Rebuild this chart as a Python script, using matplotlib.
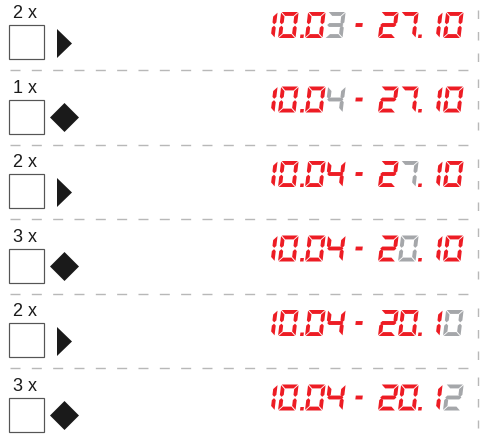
import matplotlib
matplotlib.use('Agg')
import matplotlib.pyplot as plt
from matplotlib.patches import Polygon, Rectangle

# ---------------- data ----------------
press_counts = [2, 1, 2, 3, 2, 3]
button_keys = ['next', 'enter', 'next', 'enter', 'next', 'enter']
display_texts = ["10.03-27.10", "10.04-27.10", "10.04-27.10",
                 "10.04-20.10", "10.04-20.10", "10.04-20.12"]
blinking_char = [4, 4, 7, 7, 10, 10]

# ---------------- style / layout ----------------
RED = '#ed1c24'
GREY = '#a5a7aa'
DASH_COL = '#b8b8b8'
W, H = 491, 440
DPI = 72
ROW_PITCH = 74.5
char_x = [270, 278, 300, 305, 325, 354, 378, 398, 418, 435, 443]

plt.rcParams['lines.scale_dashes'] = False
fig = plt.figure(figsize=(W / DPI, H / DPI), dpi=DPI)
ax = fig.add_axes([0, 0, 1, 1])
ax.set_xlim(0, W)
ax.set_ylim(H, 0)
ax.axis('off')

SEGMENTS = {'0': 'abcdef', '1': 'bc', '2': 'abdeg', '3': 'abcdg', '4': 'bcfg',
            '5': 'acdfg', '6': 'acdefg', '7': 'abc', '8': 'abcdefg', '9': 'abcdfg'}

DH = 26.0     # digit height
DW = 17.5     # digit width
T = 3.9       # segment thickness
G = 0.65      # gap
SLANT = 0.12


def seg_polys(seg, w, h):
    t, g = T, G
    m = h / 2
    if seg == 'a':
        return [(g, 0), (w - g, 0), (w - g - t, t), (g + t, t)]
    if seg == 'd':
        return [(g + t, h - t), (w - g - t, h - t), (w - g, h), (g, h)]
    if seg == 'g':
        return [(g, m), (g + t / 2, m - t / 2), (w - g - t / 2, m - t / 2),
                (w - g, m), (w - g - t / 2, m + t / 2), (g + t / 2, m + t / 2)]
    if seg == 'f':
        return [(0, g), (t, g + t), (t, m - g - t / 2), (t / 2, m - g), (0, m - g - t / 2)]
    if seg == 'e':
        return [(0, m + g + t / 2), (t / 2, m + g), (t, m + g + t / 2), (t, h - g - t), (0, h - g)]
    if seg == 'b':
        return [(w, g), (w, m - g - t / 2), (w - t / 2, m - g), (w - t, m - g - t / 2), (w - t, g + t)]
    if seg == 'c':
        return [(w, m + g + t / 2), (w, h - g), (w - t, h - g - t), (w - t, m + g + t / 2), (w - t / 2, m + g)]


def place(poly, x0, y0, h):
    return [(x0 + u + SLANT * (h - v), y0 + v) for u, v in poly]


def draw_char(ch, x0, y0, color):
    polys = []
    if ch == '.':
        polys.append([(0, DH - 3.5), (3.5, DH - 3.5), (3.5, DH), (0, DH)])
    elif ch == '-':
        m = DH / 2
        polys.append([(0, m - T / 2), (7, m - T / 2), (7, m + T / 2), (0, m + T / 2)])
    else:
        w = 4.5 if ch == '1' else DW
        for s in SEGMENTS[ch]:
            polys.append(seg_polys(s, w, DH))
    for p in polys:
        ax.add_patch(Polygon(place(p, x0, y0, DH), closed=True,
                             facecolor=color, edgecolor='none'))


for i, (n, key, disp, blink) in enumerate(zip(press_counts, button_keys,
                                              display_texts, blinking_char)):
    off = i * ROW_PITCH
    # label
    ax.text(13, 18.3 + off, f"{n} x", fontsize=18, family='Liberation Sans',
            color='#1a1a1a', ha='left', va='baseline')
    # box
    ax.add_patch(Rectangle((9, 25 + off), 35, 34, facecolor='white',
                           edgecolor='#555555', lw=1.2))
    # button symbol
    if key == 'next':
        ax.add_patch(Polygon([(57, 29 + off), (57, 58 + off), (72, 43.5 + off)],
                             closed=True, facecolor='#1a1a1a', edgecolor='none'))
    else:
        cx, cy, r = 64.5, 43 + off, 14.5
        ax.add_patch(Polygon([(cx - r, cy), (cx, cy - r), (cx + r, cy), (cx, cy + r)],
                             closed=True, facecolor='#1a1a1a', edgecolor='none'))
    # display
    for k, ch in enumerate(disp):
        draw_char(ch, char_x[k], 12 + off, GREY if k == blink else RED)
    # horizontal separator
    if i < len(press_counts) - 1:
        ax.plot([10, 470], [70 + off, 70 + off], color=DASH_COL, lw=1.4,
                dashes=(10, 11.33), solid_capstyle='butt', dash_capstyle='butt')
    # vertical dashed edge
    c = 25 + off
    ys = c - 15 if i % 2 == 0 else c - 21
    ax.plot([478, 478], [ys, ys + 51.5], color=DASH_COL, lw=1.4,
            dashes=(8.5, 13), dash_capstyle='butt')

fig.savefig('out.png', dpi=DPI, facecolor='white')
